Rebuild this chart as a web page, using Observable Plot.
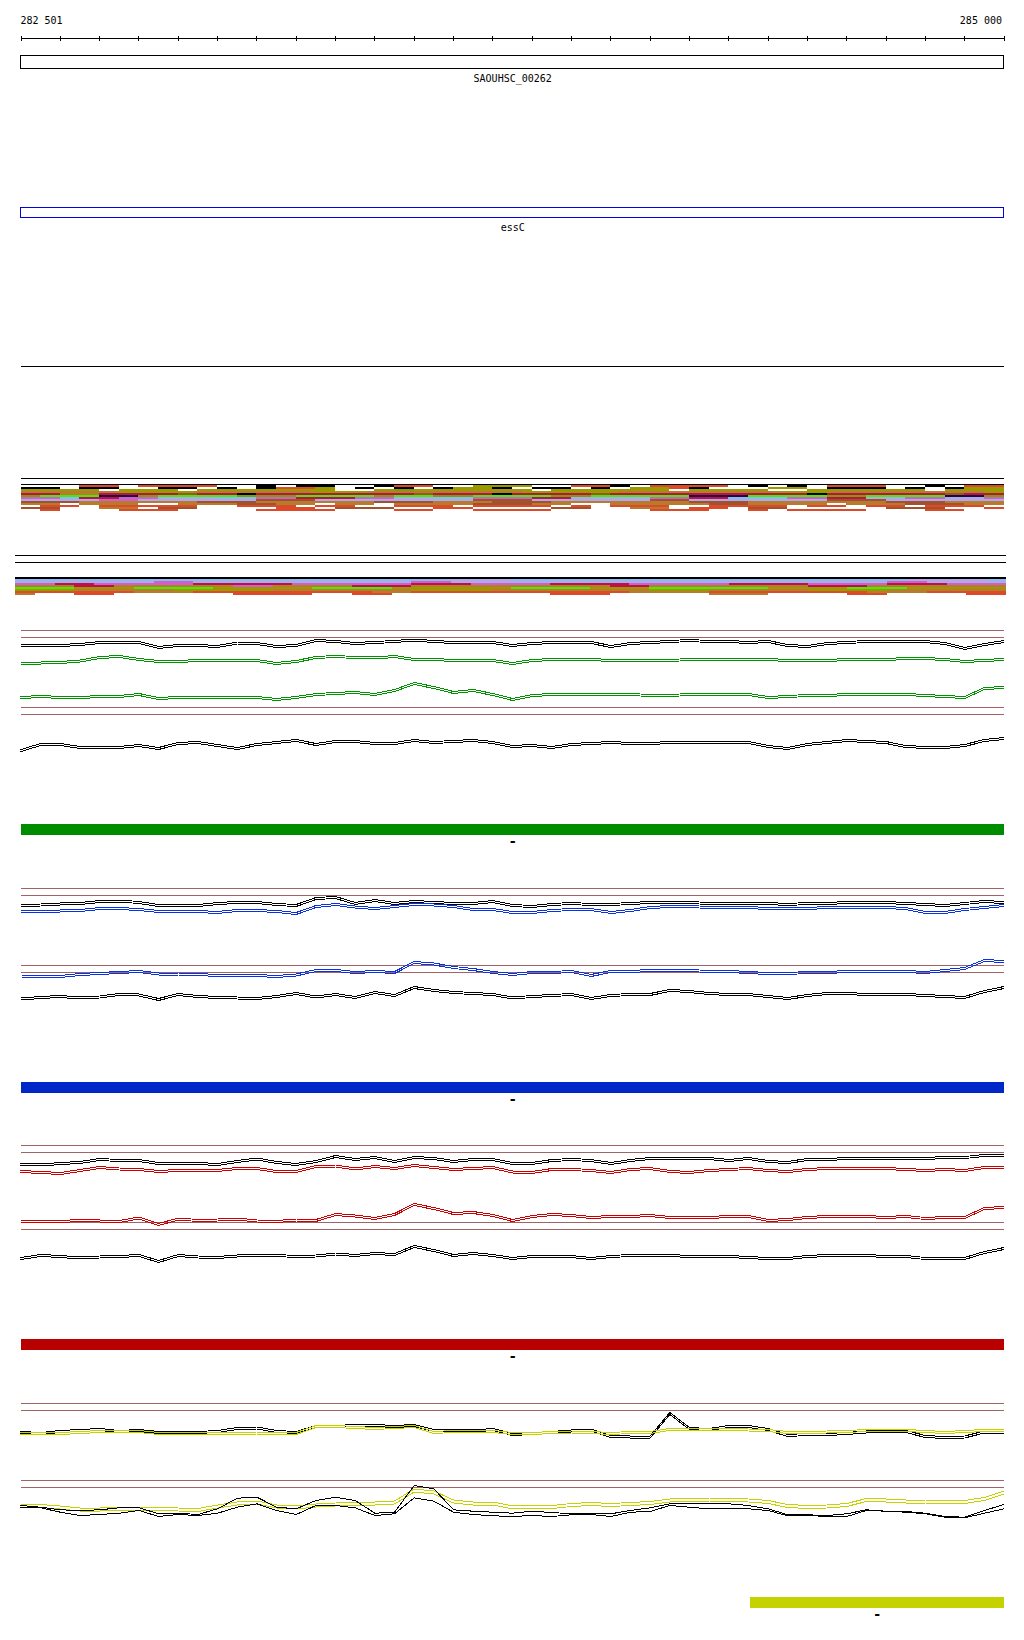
<!DOCTYPE html>
<html><head><meta charset="utf-8">
<script src="https://cdn.jsdelivr.net/npm/d3@7"></script>
<script src="https://cdn.jsdelivr.net/npm/@observablehq/plot@0.6"></script>
<style>
html,body{margin:0;padding:0;background:#fff;}
#chart{position:relative;width:1024px;height:1640px;overflow:hidden;background:#fff;}
#chart svg{position:absolute;left:0;}
</style></head><body><div id="chart"></div>
<script>
// ---------------- DATA ----------------
const START = 282500, END = 285000;
const rulerTicks = d3.range(282500, 285001, 100);
const rulerLabelText = ["282 501", "285 000"];
const rulerLabelPos = [282501, 285000];

const geneNames = ["SAOUHSC_00262", "essC"];
const geneStarts = [282501, 282501];
const geneEnds = [285000, 285000];

// sample positions every 50 bp (51 points)
const positions = d3.range(START, END + 1, 50);

// signal levels (positive = up)
const greenUpperBlack = [-2,-2,-2,-1,1,1,1,-4,-2,-2,-3,0.5,0,-3,-2,3,2,0,1,2,3.5,2,1,1,1,-2,
  0,1,1,1,-3,0,1,2,3,2,2,1,2,-2,-3,0,1,2,2,2,2,0,-5,-1,2];
const greenUpperGreen = [-2.5,-2.5,-2,-0.5,3,4,1,-1,-1,0,0,0,0,-3,-1,3,4,3,2.5,4,1,1,0,0,0,-3,
  0,1,1,1,0,0,0,0,1,1,1,1,1,0,0,0,1,1,1,2,2,1,-1,0,1];
const greenLowerGreen = [-2,-1,-2,-2,-1,-1,1,-3,-2,-2,-2,-2,-2,-4,-2,1,2,3,1,5,12,8,3,5,1,-4,
  0,1,1,1,1,1,0,0,1,1,1,1,-2,-1,0,0,1,1,1,1,0,-1,-2,7,8];
const greenLowerBlack = [-6,0,0,-3,-3.5,-3,-1,-4,1,2,-1,-4,0,2,4,0,3,3,1,1,4,2,3,4,2,-2,
  -1,-3,0,1,2,1,1,2,2,2,2,2,-2,-4,0,2,4,3,2,-2,-3,-3,-1,4,6];

const blueUpperBlack = [-2,-1.5,-0.5,0,2,2.5,1,-2,-2,-2,0,1,1,-1,-2,5,6,0,3,0,2,1,0,0,2,-2,
  -3,-1,0,-1,-1,0,1,1,1,0,0,0,0,-1,0,0,1,1,1,0,-1,-2,0,2,1];
const blueUpperBlue = [-1.5,-1.5,-1.5,-1,1,1,0,-2,-2,-2,-3,-1,-1,-2,-4,3,5,2.5,1,3,5,4.5,3,0,0,-3,
  -3,-1,0,0,-3,-1,2,3,3,2,2,2,1,1,1,2,2,2,2,1,-3,-3,0,2,4];
const blueLowerBlue = [-3.5,-4,-4,-2,-1,0,1,-1.5,-1.5,-2,-3,-3,-3,-4,-2.5,2,2,0,1,0,10,8.5,5,3,0,-2,
  0,0,1,-3,1,1,2,2,2,1,1,0,-1,-1,0,0,1,1,1,1,0,2,4,12,11];
const blueLowerBlack = [-3.5,-2,-1,-2.5,-1.5,1,0.5,-4,1,-1,-2,-2.5,-3,-1,2,-1.5,1,-2,3,0,8,5,3,2,1,-2.5,
  -1,0,1,-3,0,1,1,5,4,2,1,1,-1,-3,0,2,2,1,1,1,0,-1,-2,4,8];

const redUpperBlack = [-4,-4.5,-3,-2,1,0,0,-3,-3,-3,-4,-1,1.5,-2,-4,-1,4,1,3,-1,3,2,-1,1,1,-3,
  -3,0,1,0,-3,0,2,2,2,2,0,2,-1,-2,1,1,2,2,2,2,2,3,3,5,5];
const redUpperRed = [-2,-3,-4,-1,2,0.5,0,-2,-1,-1,-1,1,1,-2,-2,3,3.5,0.5,3,1,4,2,0,1,2,-2.5,
  -3,0,0,-1,-3,0,1,-2,-3,-1,0,1,-1,-2,0,1,1,1,1,0,-1,0,-1,2,2];
const redLowerRed = [-3.5,-3,-3.5,-1.5,-2.5,-3,0.5,-6,-0.5,-2,-1.5,-0.5,-2.5,-3,-1.5,-2,4,2.5,0,4,14,10,5,6,3,-2,
  2,4,3,1,2,2,3,1,1,1,2,2,-2,-1,1,2,2,2,1,2,0,1,1,10,11];
const redLowerBlack = [-2,1,0,-1.5,-0.5,0,1,-5,1,-0.5,-1,0.5,1,1,0,0.5,2.5,1,3,2,10,6,1,3,1,-2,
  0,0,0,-2,0,1,1,1,0,0,0,-1,-2,-2,0,1,1,1,0,0,-2,-2,-2,4,8];

const yellowUpperBlack = [-1,-2,0,1,2,0,1,-1,-1.5,-1,0,3,3.5,0,-1,5,5,6,6,5,6,1,1,0.5,2,-3,
  -2,-1,0.5,1.5,-5,-5.5,-5.5,18,3,2,5,5,2,-4,-3,-3,-2,-0.5,0,0,-5,-6,-5.5,-0.5,-0.5];
const yellowUpperYellow = [-2,-2.5,-2,-1,0,0,0,-2,-2,-2,-2,-2,-1.5,-1.5,-2,5,5,4,3,4,5,-1,0,0,0,-2,
  -2,-1,-0.5,-1,-2,-1,-1,2,2,2,2,1.5,1,-1,-1,-0.5,0,1,1,1,0,-1,0,1,1];
const yellowLowerYellow = [-0.5,-0.5,-2,-4,-4,-3,-3,-3.5,-4,-4.5,-1,2,3,-1,-2,0,1,2,2,3,15,13,4,2,2,-2,
  -1.5,-1.5,0.5,1.5,0.5,1.5,2.5,5,6,6,5.5,5,3.5,-0.5,-1.5,-1,0.5,5.5,5,4,4,3,3.5,6.5,13];
const yellowLowerBlackA = [5,3.3,0.7,0,0.7,2.7,2.7,-3.3,-2.7,-4,1.7,12.3,13.3,3.3,1.7,10,13.3,10,-2.7,-1.7,25,21.7,0.7,-0.7,-1.7,-2.7,
  -0.7,-2,-3.3,-2.7,-3.3,0,2.7,6.7,6.7,6.7,6.7,5,1.7,-4.3,-4.3,-5,-3.3,0.7,-0.7,-1,-2.7,-6,-6.7,0,6];
const yellowLowerBlackB = [3,2.7,-1.7,-5,-4,-2.7,0,-6,-4,-5,-2.7,3.3,6.7,0,-4,5,5,2.7,-5,-3.3,12.7,9.3,-1.7,-4,-5.3,-6,
  -5,-6,-4.3,-4,-6,-1.7,-1,5,3.3,1.7,2.3,1.7,0,-5.3,-5,-6,-6,0,-0.7,-1.7,-3.3,-6.7,-7.3,-2.7,1.7];

// annotated features under each group (strand label)
const featureStarts = [282501, 282501, 282501, 284355];
const featureEnds = [285000, 285000, 285000, 285000];
const featureStrands = ["-", "-", "-", "-"];

// alignment-like colour stripes: one string per row, one char per bin
const stripeRowsA = [
  "...aa.aaaa..k.kk..kaa..ooo..aak.aaaa.k.k.aaa..k.aa",
  "kk.kk..kk.k.kaao.k.k.kook.kk.k.ooak...oo.kkk.k.koo",
  "oooo.ooo.ooooooo..oyoooooo.oooooo.oooo..oooooo.ooo",
  "bbbbboooobbbbbbooobbbbbbbbooooobbbbbbbbooobbbbbbbbo",
  "mmbbmmmmsmmkmmmmmmmmsmmmkmmmmsmmmmmmmmmmkmmmmmmsmm",
  "ygggnnyggggyyyggggyggyyggggyygggggnnnggggyyggggnny",
  "pplmmppvvvllppmmmppvvllpppmmvvvvppmmlllppmmvvppvvp",
  "vvvvppvvvvvvsssvvvvvvvvsssvvvvvvssvvvvvvvsssvvvvvv",
  "sssbbbbbbsssbbbbbbsssbbbsssbbbbbbbsssbbbbbbbsssbbb",
  "bb.bbb..bbbssbb.bb.bbbbsssbb..bbbbbssbbbb.bbbsssbb",
  ".aa.aaaaa..aaa.aa..aaa.aaaa.a.aaa..aaaa.aa.aa.aaa.",
  "ss..bb.ss....aa.sss..aa....ss..bb.aa.ss.....sss..a",
  ".a...aaa....aaaa...aa..aaaa.....aaa..a.aaaa...aa.."
];
const stripeRowsB = [
  "llllllllllllllllllllllvvvllllllllllllllllllllvvvvl",
  "vvvvvvvppvvvvvvvvvvvppvvvvvvvvvvvvvvvvvvvvvvppvvvv",
  "ppmmpppppmmmmmppppppmmmppppmmmmpppppmmmmppppmmmppp",
  "bbbmmbbbbbbppbbbbmmmbbbbbbbbbbmmbbbbbbbbmmmbbbbbbb",
  "gggoooggggoooooggggooooooggggoooggggggoooogggooooo",
  "ooobbbbbooooobbbbbbboooobbbbbbbbooobbbbboooobbbbbb",
  "aaaaaabbbaaaaaaaaabbaaaaaaaaaaabbbbaaaaaaaabbbaaaa",
  "b..aa......aaaa..aa........aaa.....bbb....aa....aa"
];

// ---------------- STYLES / LAYOUT ----------------
const palette = {a:"#dd4a2a", o:"#9a9a00", y:"#7aa000", b:"#b87a2c", s:"#a0522d", m:"#c0104a",
  k:"#000000", g:"#44ee00", n:"#1a0a40", p:"#d060c8", v:"#b0a8e8", l:"#88bbee"};
const BROWN = "#a06464";
const FONT = "DejaVu Sans Mono";
const W = 1024;
const xDomain = [START, END], xRange = [20.5, 1003.5];
const root = document.getElementById("chart");

function place(svg, top) { svg.style.top = top + "px"; root.appendChild(svg); }
function basePlot(h, marks, extra = {}) {
  return Plot.plot(Object.assign({
    width: W, height: h, margin: 0,
    x: {domain: xDomain, range: xRange, axis: null},
    style: {background: "transparent", overflow: "visible", fontFamily: FONT},
    marks
  }, extra));
}
function hRule(top, color, width, xr = xRange) {
  place(basePlot(2, [Plot.ruleY([{y: 0, a: START, b: END}], {y: "y", x1: "a", x2: "b", stroke: color, strokeWidth: width, shapeRendering: "crispEdges"})],
    {x: {domain: xDomain, range: xr, axis: null}, y: {domain: [0, 1], range: [0, 1], axis: null}}), top);
}
function seriesData(values) { return positions.map((p, i) => ({pos: p, v: values[i]})); }
function lane(center, values, color, offsets) {
  const h = 70;
  const marks = offsets.map(o => Plot.line(seriesData(values), {x: "pos", y: "v", stroke: color, strokeWidth: 1, dy: o, shapeRendering: "crispEdges"}));
  place(basePlot(h, marks, {y: {domain: [-h / 2, h / 2], range: [h, 0], axis: null}}), center - h / 2);
}

// ---------------- RULER ----------------
const labels = rulerLabelText.map((t, i) => ({t, pos: rulerLabelPos[i]}));
place(basePlot(16, [
  Plot.text(labels.slice(0, 1), {x: "pos", text: "t", textAnchor: "start", fontSize: 10, fontFamily: FONT, fill: "black", dx: -1}),
  Plot.text(labels.slice(1), {x: "pos", text: "t", textAnchor: "end", fontSize: 10, fontFamily: FONT, fill: "black", dx: -2})
]), 12);
place(basePlot(5, [
  Plot.ruleY([{y: 0, a: START, b: END}], {y: "y", x1: "a", x2: "b", stroke: "black", shapeRendering: "crispEdges"}),
  Plot.tickX(rulerTicks, {x: d => d, stroke: "black", shapeRendering: "crispEdges"})
], {y: {domain: [0, 1], range: [2, 3], axis: null}}), 36);

// ---------------- GENES ----------------
const genes = geneNames.map((n, i) => ({name: n, start: geneStarts[i], end: geneEnds[i]}));
const geneStroke = {"SAOUHSC_00262": "black", "essC": "#0000ee"};
const geneTop = {"SAOUHSC_00262": 55, "essC": 207};
const geneH = {"SAOUHSC_00262": 13, "essC": 10};
genes.forEach(g => {
  place(basePlot(geneH[g.name], [
    Plot.barX([g], {x1: "start", x2: "end", fill: "none", stroke: geneStroke[g.name], strokeWidth: 1, shapeRendering: "crispEdges"})
  ]), geneTop[g.name]);
  place(basePlot(12, [
    Plot.text([g], {x: d => (d.start + d.end) / 2, text: "name", fontSize: 10, fontFamily: FONT, fill: "black"})
  ]), geneTop[g.name] + geneH[g.name] + 4);
});

hRule(366, "black", 1);

// ---------------- STRIPES ----------------
function stripes(rows, top, xr) {
  const segs = [];
  rows.forEach((r, i) => {
    const bw = (END - START) / r.length;
    let j = 0;
    while (j < r.length) {
      const c = r[j]; let k = j;
      while (k + 1 < r.length && r[k + 1] === c) k++;
      if (c !== ".") segs.push({row: i, x1: START + j * bw, x2: START + (k + 1) * bw, code: c});
      j = k + 1;
    }
  });
  place(basePlot(rows.length * 2, [
    Plot.barX(segs, {x1: "x1", x2: "x2", y: "row", fill: d => palette[d.code], shapeRendering: "crispEdges"})
  ], {x: {domain: xDomain, range: xr, axis: null},
      y: {type: "band", domain: d3.range(rows.length), range: [0, rows.length * 2], padding: 0, axis: null},
      color: {type: "identity"}}), top);
}
hRule(478, "black", 1);
hRule(484, "black", 1);
stripes(stripeRowsA, 485, xRange);
const xWide = [15, 1006];
hRule(555, "black", 1, xWide);
hRule(562, "black", 1, xWide);
hRule(577, "black", 2, xWide);
stripes(stripeRowsB, 579, xWide);

// ---------------- SIGNAL GROUPS ----------------
const groups = [
  {top: 630, color: "#009000", bar: "#008c00", centers: [643, 660, 695, 744],
   series: [greenUpperBlack, greenUpperGreen, greenLowerGreen, greenLowerBlack], feature: 0},
  {top: 888, color: "#0a32dc", bar: "#0028c8", centers: [903, 909, 972, 995],
   series: [blueUpperBlack, blueUpperBlue, blueLowerBlue, blueLowerBlack], feature: 1},
  {top: 1145, color: "#c80000", bar: "#b80000", centers: [1160, 1169, 1218, 1256],
   series: [redUpperBlack, redUpperRed, redLowerRed, redLowerBlack], feature: 2},
  {top: 1403, color: "#c4d200", bar: "#c4d200", centers: [1431, 1431, 1505, 1510],
   series: [yellowUpperBlack, yellowUpperYellow, yellowLowerYellow], feature: 3}
];
groups.forEach((g, gi) => {
  // reference rules
  [0, 7, 77, 84].forEach(o => hRule(g.top + o, BROWN, 1));
  lane(g.centers[0], g.series[0], "black", [-1, 1]);
  lane(g.centers[1], g.series[1], g.color, [-1, 1]);
  lane(g.centers[2], g.series[2], g.color, gi === 3 ? [-1.5, 1.5] : [-1, 1]);
  if (gi === 3) {
    lane(g.centers[3], yellowLowerBlackA, "black", [0]);
    lane(g.centers[3], yellowLowerBlackB, "black", [0]);
  } else {
    lane(g.centers[3], g.series[3], "black", [-1, 1]);
  }
  const f = {start: featureStarts[g.feature], end: featureEnds[g.feature], strand: featureStrands[g.feature]};
  place(basePlot(11, [Plot.barX([f], {x1: "start", x2: "end", fill: g.bar, shapeRendering: "crispEdges"})]), g.top + 194);
  place(basePlot(12, [Plot.text([f], {x: d => (d.start + d.end) / 2, text: "strand", fontSize: 14, fontWeight: "bold", fontFamily: FONT, fill: "black"})]), g.top + 205);
});
</script></body></html>
